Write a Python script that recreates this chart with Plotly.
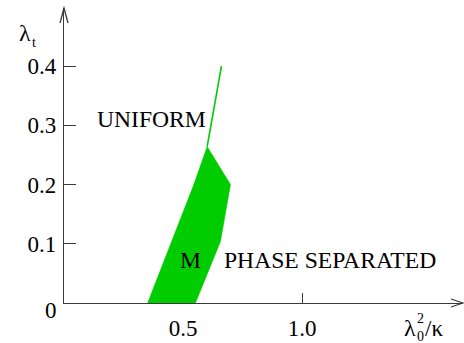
import plotly.graph_objects as go

# data
region_x = [0.351, 0.552, 0.657, 0.699, 0.601, 0.545, 0.351]
region_y = [0.0, 0.0, 0.104, 0.2, 0.264, 0.2, 0.0]
line_x = [0.601, 0.661]
line_y = [0.264, 0.40]
x_ticks = [0.5, 1.0]
x_ticklabels = ["0.5", "1.0"]
y_ticks = [0.1, 0.2, 0.3, 0.4]
y_ticklabels = ["0.1", "0.2", "0.3", "0.4"]
labels = ["UNIFORM", "M", "PHASE SEPARATED"]
label_x = [0.367, 0.531, 1.118]
label_y = [0.311, 0.0722, 0.0722]

GREEN = "rgb(0,204,0)"
AX = "#3a3a3a"
FONT = "Liberation Serif"

fig = go.Figure()
fig.add_trace(go.Scatter(x=region_x, y=region_y, fill="toself", fillcolor=GREEN,
                         mode="lines", line=dict(color=GREEN, width=0.5),
                         hoverinfo="skip", showlegend=False))
fig.add_trace(go.Scatter(x=line_x, y=line_y, mode="lines",
                         line=dict(color=GREEN, width=1.6),
                         hoverinfo="skip", showlegend=False))

for t, x, y in zip(labels, label_x, label_y):
    fig.add_annotation(x=x, y=y, text=t, showarrow=False, xref="x", yref="y",
                       font=dict(family=FONT, size=23.6, color="black"))

fig.add_annotation(x=0, y=0, text="0", showarrow=False, xref="x", yref="y",
                   xanchor="right", xshift=-5, yshift=-7,
                   font=dict(family=FONT, size=23, color="black"))


def paper_text(text, x, y, xshift, yshift, size, xanchor="center"):
    fig.add_annotation(x=x, y=y, xref="paper", yref="paper", text=text,
                       showarrow=False, xanchor=xanchor, yanchor="middle",
                       xshift=xshift, yshift=yshift,
                       font=dict(family=FONT, size=size, color="black"))


# y-axis title  λ_t
paper_text("λ", 0, 1, -39.5, -25, 24)
paper_text("t", 0, 1, -30.5, -34.5, 14)
# x-axis title  λ_0^2 / κ
paper_text("λ", 1, 0, -53.5, -25, 24)
paper_text("0", 1, 0, -43, -33.5, 14)
paper_text("2", 1, 0, -43, -15.5, 14)
paper_text("/κ", 1, 0, -40, -25, 23, xanchor="left")

# arrow heads
fig.add_shape(type="path", xref="paper", yref="paper", xsizemode="pixel", ysizemode="pixel",
              xanchor=1, yanchor=0, path="M -12,4 L 0,0 L -12,-4",
              line=dict(color=AX, width=1.3))
fig.add_shape(type="path", xref="paper", yref="paper", xsizemode="pixel", ysizemode="pixel",
              xanchor=0, yanchor=1, path="M -4,-15 L 0,0 L 4,-15",
              line=dict(color=AX, width=1.3))

fig.update_layout(
    width=464, height=343,
    margin=dict(l=64, r=1, t=8, b=40, autoexpand=False),
    paper_bgcolor="white", plot_bgcolor="white",
    showlegend=False,
    xaxis=dict(range=[0, 1.675], showgrid=False, zeroline=False, showline=True,
               linecolor=AX, linewidth=1.3, ticks="inside", ticklen=10, tickwidth=1.3,
               tickcolor=AX, tickvals=x_ticks, ticktext=x_ticklabels, automargin=False,
               layer="below traces", ticklabelstandoff=4,
               tickfont=dict(family=FONT, size=23, color="black")),
    yaxis=dict(range=[0, 0.498], showgrid=False, zeroline=False, showline=True,
               linecolor=AX, linewidth=1.3, ticks="inside", ticklen=12, tickwidth=1.3,
               tickcolor=AX, tickvals=y_ticks, ticktext=y_ticklabels, automargin=False,
               ticklabelstandoff=2,
               tickfont=dict(family=FONT, size=23, color="black")),
)

fig.write_html("out.html", config={"displayModeBar": False},
               post_script="document.body.style.margin='0';document.body.style.overflow='hidden';")
